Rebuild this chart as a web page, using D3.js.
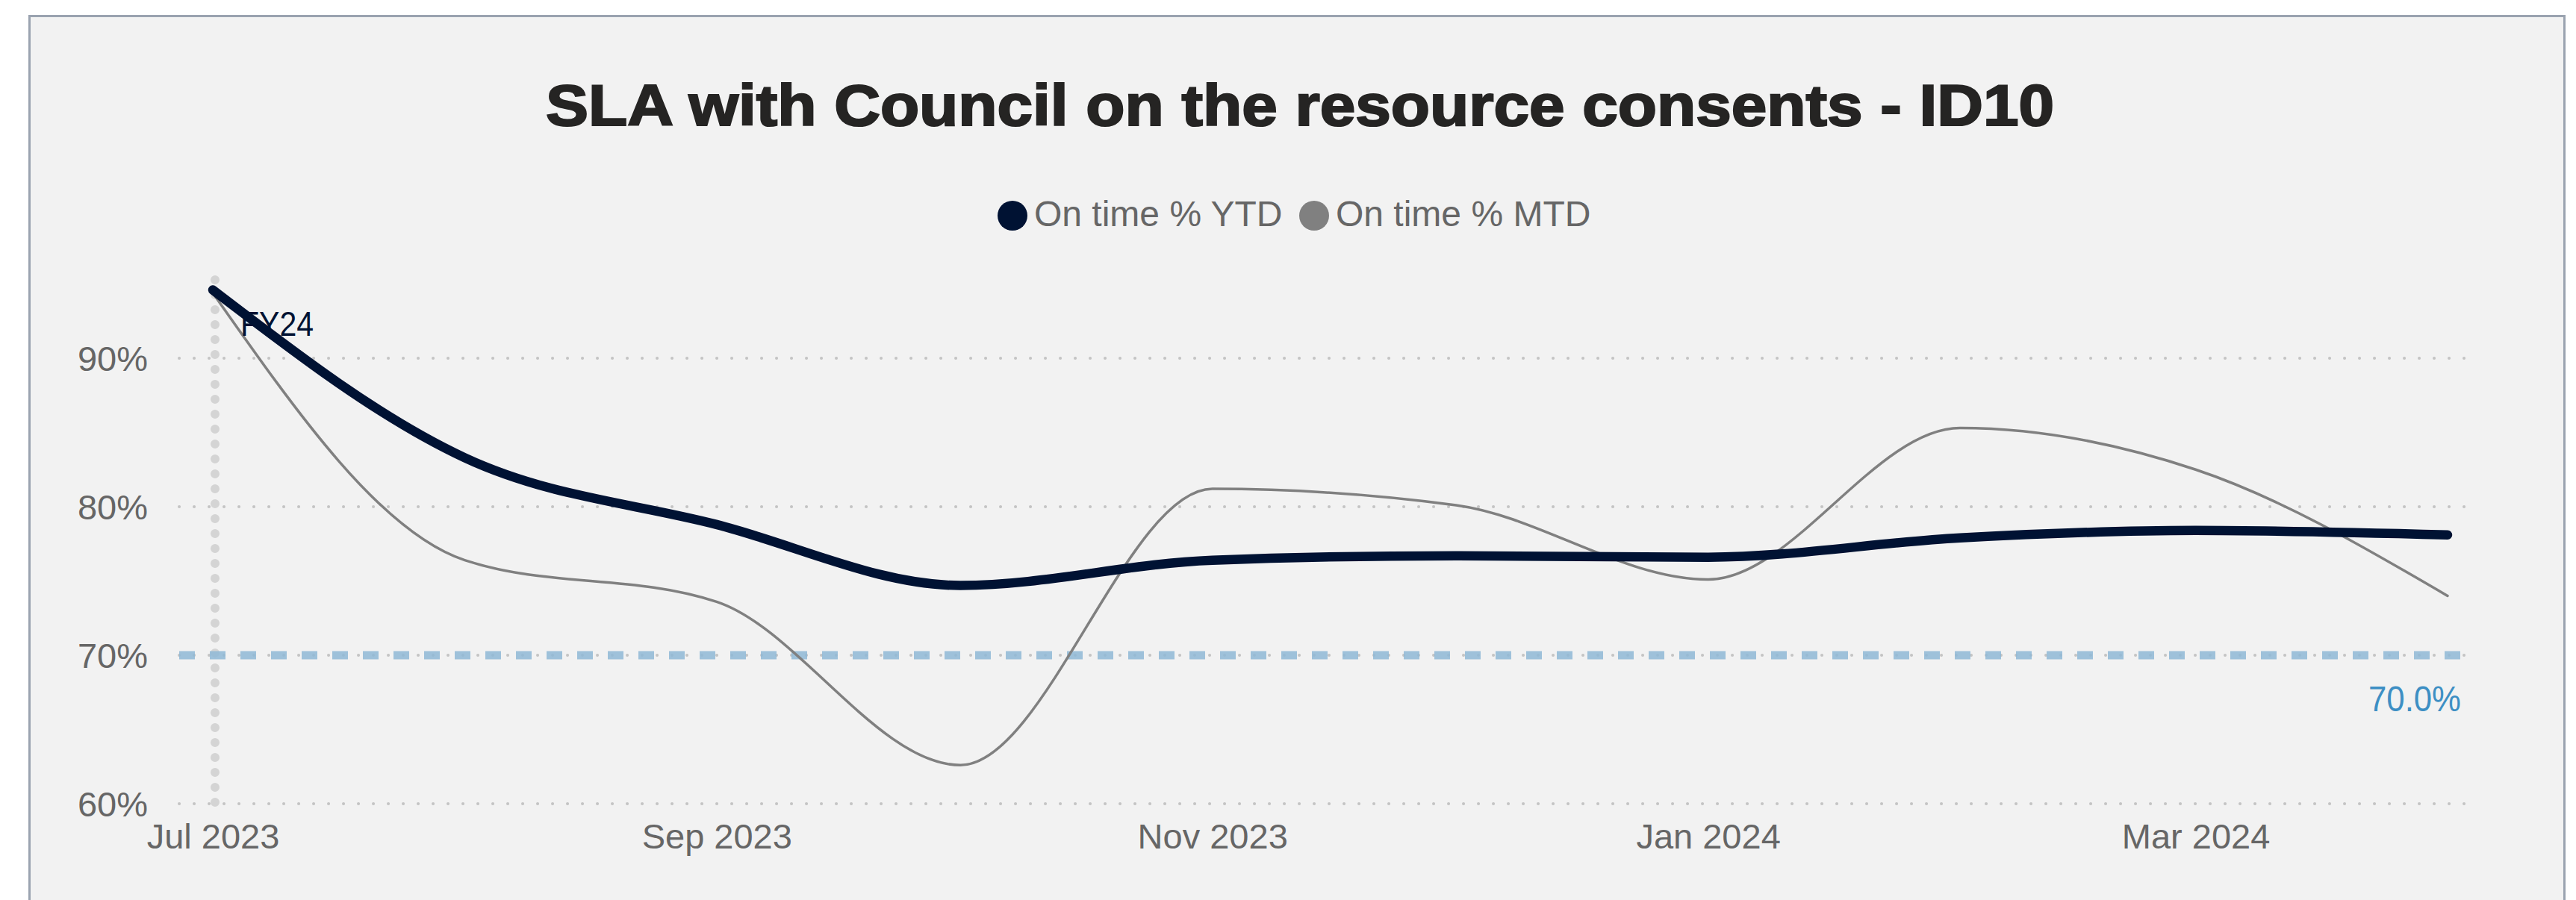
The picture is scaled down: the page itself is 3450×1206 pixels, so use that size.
<!DOCTYPE html>
<meta charset="utf-8">
<style>
body { margin: 0; background: #ffffff; }
text { font-family: "Liberation Sans", Arial, sans-serif; }
.axis text { fill: #666666; font-size: 47px; }
</style>
<svg id="chart" width="3450" height="1206"></svg>
<script src="https://cdn.jsdelivr.net/npm/d3@7"></script>
<script>

// data
var months = ["2023-07-01", "2023-08-01", "2023-09-01", "2023-10-01", "2023-11-01",
              "2023-12-01", "2024-01-01", "2024-02-01", "2024-03-01", "2024-04-01"];
var ytd = [94.6, 83.3, 78.8, 74.7, 76.4, 76.7, 76.6, 77.9, 78.4, 78.1];
var mtd = [94.4, 76.4, 73.6, 62.6, 81.2, 80.1, 75.1, 85.3, 82.5, 74.0];
var target = 70;
var yTicks = [60, 70, 80, 90];
var xTicks = ["2023-07-01", "2023-09-01", "2023-11-01", "2024-01-01", "2024-03-01"];
var seriesNames = ["On time % YTD", "On time % MTD"];
var fyLabel = "FY24";

var parse = d3.utcParse("%Y-%m-%d");
var dates = months.map(parse);

var svg = d3.select("#chart");

// panel
svg.append("rect")
    .attr("x", 39.5).attr("y", 21.5)
    .attr("width", 3395).attr("height", 1300)
    .attr("fill", "#f2f2f2").attr("stroke", "#9aa3b0").attr("stroke-width", 3);

// scales
var x = d3.scaleUtc()
    .domain([dates[0], dates[dates.length - 1]])
    .range([285, 3278]);
var y = d3.scaleLinear().domain([60, 90]).range([1077, 480]);
var gridLeft = 240, gridRight = 3302;

// title (heavier than plain bold, so a thin stroke is added)
svg.append("text")
    .attr("x", 1741).attr("y", 168)
    .attr("text-anchor", "middle")
    .attr("font-size", 78).attr("font-weight", "bold")
    .attr("fill", "#252423").attr("stroke", "#252423").attr("stroke-width", 2.2)
    .attr("textLength", 2020).attr("lengthAdjust", "spacingAndGlyphs")
    .text("SLA with Council on the resource consents - ID10");

// legend
var legend = svg.append("g");
var legendX = [1356, 1760];
var colors = ["#001233", "#808080"];
seriesNames.forEach(function (name, i) {
    legend.append("circle")
        .attr("cx", legendX[i]).attr("cy", 289).attr("r", 20)
        .attr("fill", colors[i]);
    legend.append("text")
        .attr("x", legendX[i] + 29).attr("y", 303)
        .attr("font-size", 48).attr("fill", "#666666")
        .text(name);
});

// dotted gridlines
svg.append("g").selectAll("line")
    .data(yTicks)
    .enter().append("line")
    .attr("x1", gridLeft).attr("x2", gridRight)
    .attr("y1", d => y(d)).attr("y2", d => y(d))
    .attr("stroke", "#c4c4c4").attr("stroke-width", 4)
    .attr("stroke-linecap", "round")
    .attr("stroke-dasharray", "0.1 19.9");

// y axis
var yAxis = svg.append("g")
    .attr("class", "axis")
    .attr("transform", "translate(198,0)")
    .call(d3.axisLeft(y).tickValues(yTicks).tickSize(0).tickPadding(0)
          .tickFormat(d => d + "%"));
yAxis.select(".domain").remove();
yAxis.selectAll("text").attr("dy", "0.36em");

// x axis
var xAxis = svg.append("g")
    .attr("class", "axis")
    .attr("transform", "translate(0,1090)")
    .call(d3.axisBottom(x).tickValues(xTicks.map(parse)).tickSize(0).tickPadding(0)
          .tickFormat(d3.utcFormat("%b %Y")));
xAxis.select(".domain").remove();
xAxis.selectAll("text").attr("dy", "1.0em");

// FY start marker
svg.append("line")
    .attr("x1", x(dates[0]) + 3).attr("x2", x(dates[0]) + 3)
    .attr("y1", 375).attr("y2", 1077)
    .attr("stroke", "#d4d4d4").attr("stroke-width", 12)
    .attr("stroke-linecap", "round")
    .attr("stroke-dasharray", "0.1 19.9");

// target line
svg.append("line")
    .attr("x1", gridLeft).attr("x2", gridRight)
    .attr("y1", y(target)).attr("y2", y(target))
    .attr("stroke", "#8fb9d6").attr("stroke-opacity", 0.85)
    .attr("stroke-width", 11)
    .attr("stroke-dasharray", "21 20");

svg.append("text")
    .attr("x", 3296).attr("y", 953)
    .attr("text-anchor", "end")
    .attr("font-size", 48).attr("fill", "#3d8fc4")
    .attr("textLength", 124).attr("lengthAdjust", "spacingAndGlyphs")
    .text(d3.format(".1f")(target) + "%");

// lines
var line = d3.line()
    .x((d, i) => x(dates[i]))
    .y(d => y(d))
    .curve(d3.curveMonotoneX);

svg.append("path")
    .datum(mtd)
    .attr("d", line)
    .attr("fill", "none").attr("stroke", colors[1])
    .attr("stroke-width", 3.5).attr("stroke-linecap", "round");

svg.append("path")
    .datum(ytd)
    .attr("d", line)
    .attr("fill", "none").attr("stroke", colors[0])
    .attr("stroke-width", 12.5).attr("stroke-linecap", "round");

// FY label
svg.append("text")
    .attr("x", 322).attr("y", 450)
    .attr("font-size", 46).attr("fill", "#001233")
    .attr("textLength", 98).attr("lengthAdjust", "spacingAndGlyphs")
    .text(fyLabel);

</script>
